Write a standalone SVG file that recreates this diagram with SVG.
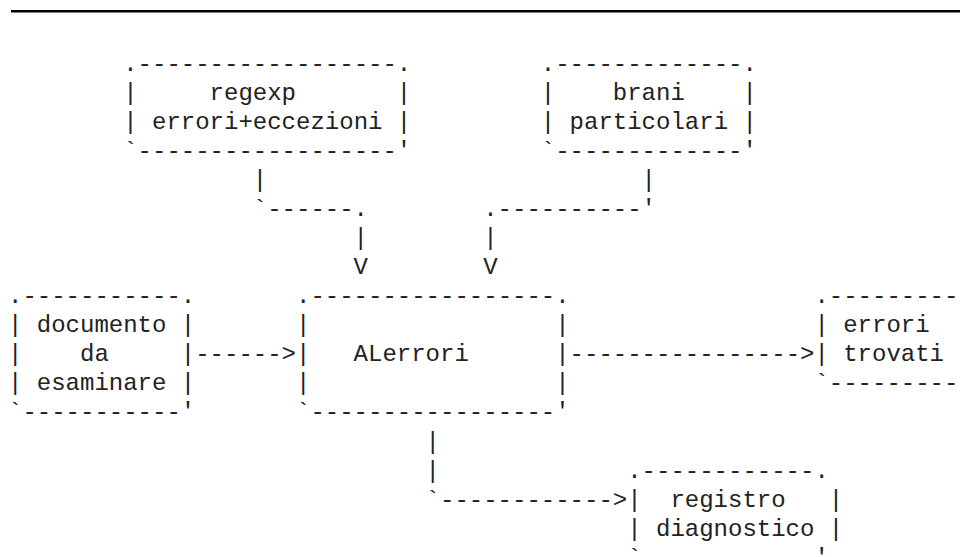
<svg xmlns="http://www.w3.org/2000/svg" width="960" height="557" viewBox="0 0 960 557">
<style>
text{font-family:"Liberation Mono","Courier New",monospace;font-size:24px;fill:#222;white-space:pre}
</style>
<rect width="960" height="557" fill="#fff"/>
<rect x="11" y="10" width="949" height="2.5" fill="#000"/>
<g id="regexp" xml:space="preserve">
<text x="123.2" y="71">.------------------.</text>
<text x="123.2" y="100">|     regexp       |</text>
<text x="123.2" y="129">| errori+eccezioni |</text>
<text x="123.2" y="158">`------------------'</text>
</g>
<g id="brani" xml:space="preserve">
<text x="540.8" y="71">.-------------.</text>
<text x="540.8" y="100">|    brani    |</text>
<text x="540.8" y="129">| particolari |</text>
<text x="540.8" y="158">`-------------'</text>
</g>
<g id="documento" xml:space="preserve">
<text x="8" y="303">.-----------.</text>
<text x="8" y="332">| documento |</text>
<text x="8" y="361">|    da     |</text>
<text x="8" y="390">| esaminare |</text>
<text x="8" y="419">`-----------'</text>
</g>
<g id="alerrori" xml:space="preserve">
<text x="296" y="303">.-----------------.</text>
<text x="296" y="332">|                 |</text>
<text x="296" y="361">|   ALerrori      |</text>
<text x="296" y="390">|                 |</text>
<text x="296" y="419">`-----------------'</text>
</g>
<g id="errori-trovati" xml:space="preserve">
<text x="814.4" y="303">.---------</text>
<text x="814.4" y="332">| errori</text>
<text x="814.4" y="361">| trovati</text>
<text x="814.4" y="390">`---------</text>
</g>
<g id="registro" xml:space="preserve">
<text x="627.2" y="478">.------------.</text>
<text x="627.2" y="507">|  registro   |</text>
<text x="627.2" y="536">| diagnostico |</text>
<text x="627.2" y="565">`------------'</text>
</g>
<g id="connectors" xml:space="preserve">
<text x="252.8" y="187">|</text>
<text x="641.6" y="187">|</text>
<text x="252.8" y="216">`------.</text>
<text x="483.2" y="216">.----------'</text>
<text x="353.6" y="245">|</text>
<text x="483.2" y="245">|</text>
<text x="353.6" y="274">V</text>
<text x="483.2" y="274">V</text>
<text x="195.2" y="361">------&gt;</text>
<text x="569.6" y="361">----------------&gt;</text>
<text x="425.6" y="449">|</text>
<text x="425.6" y="478">|</text>
<text x="425.6" y="507">`------------&gt;</text>
</g>
</svg>
